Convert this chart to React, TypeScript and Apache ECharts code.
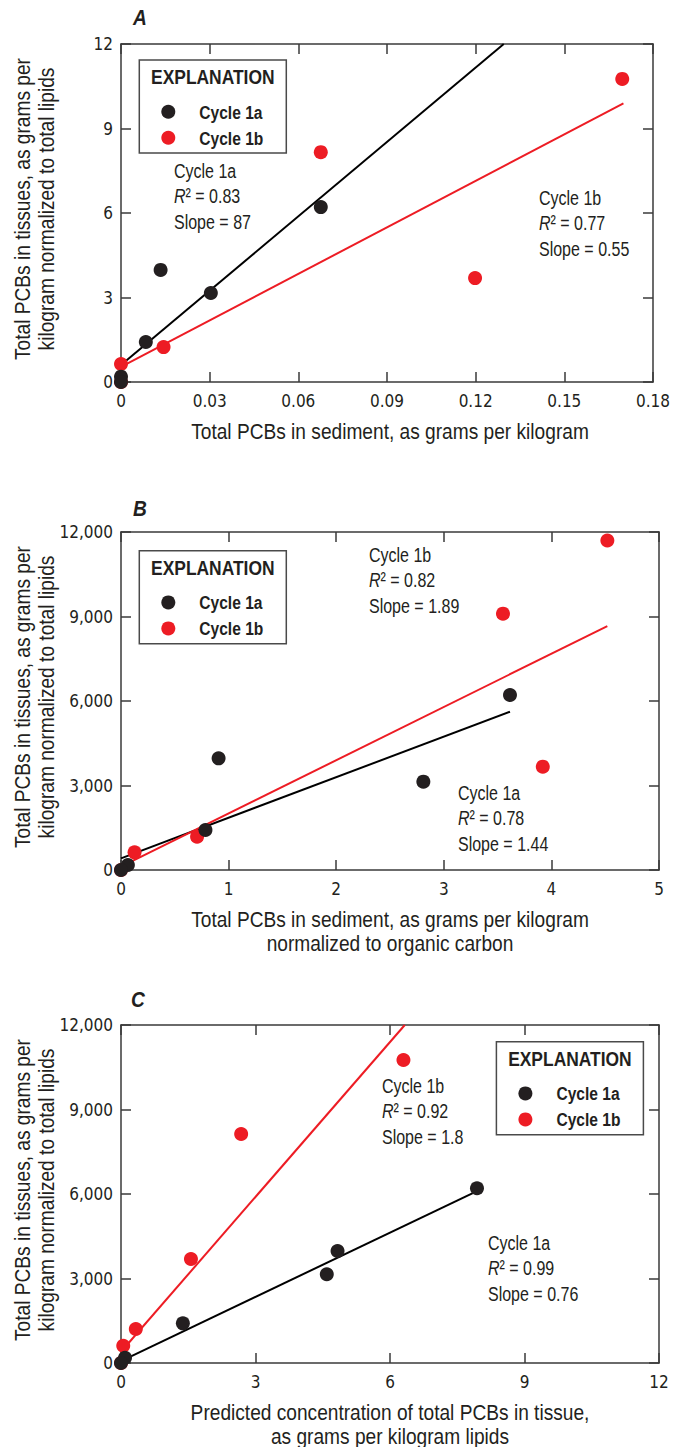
import React, { useEffect, useRef } from "react";
import * as echarts from "echarts";

const TICK_FONT = "'DejaVu Sans Condensed', 'Liberation Sans Narrow', sans-serif";
const TXT_FONT = "'Liberation Sans', Arial, sans-serif";
const INK = "#231f20";
const BLACK = "#231f20";
const RED = "#ed1c24";

// ---------- Panel A ----------
const aXTicks = ["0", "0.03", "0.06", "0.09", "0.12", "0.15", "0.18"];
const aYTicks = ["0", "3", "6", "9", "12"];
const aCycle1a = [[0.0676, 6.21], [0.0134, 3.98], [0.0304, 3.16], [0.0084, 1.42], [0, 0.19], [0, 0]];
const aCycle1b = [[0.1696, 10.76], [0.0676, 8.16], [0.1198, 3.69], [0.0144, 1.24], [0, 0.64], [0, 0]];
const aFit1a = [[0, 0.6], [0.1295, 12]];
const aFit1b = [[0, 0.54], [0.17, 9.89]];

// ---------- Panel B ----------
const bXTicks = ["0", "1", "2", "3", "4", "5"];
const bYTicks = ["0", "3,000", "6,000", "9,000", "12,000"];
const bCycle1a = [[3.615, 6213], [0.907, 3964], [2.81, 3136], [0.785, 1420], [0.064, 177], [0, 0]];
const bCycle1b = [[4.52, 11700], [3.55, 9100], [3.92, 3668], [0.707, 1183], [0.126, 627], [0, 0]];
const bFit1a = [[0, 415], [3.615, 5620]];
const bFit1b = [[0, 117], [4.52, 8660]];

// ---------- Panel C ----------
const cXTicks = ["0", "3", "6", "9", "12"];
const cYTicks = ["0", "3,000", "6,000", "9,000", "12,000"];
const cCycle1a = [[7.94, 6202], [4.83, 3976], [4.59, 3149], [1.38, 1409], [0.09, 188], [0, 0]];
const cCycle1b = [[6.3, 10757], [2.68, 8130], [1.56, 3692], [0.33, 1207], [0.05, 614], [0, 0]];
const cFit1a = [[0, 70], [7.94, 6100]];
const cFit1b = [[0, 400], [6.33, 12000]];

const yTitle = "Total PCBs in tissues, as grams per\nkilogram normalized to total lipids";
const xTitles = [
  "Total PCBs in sediment, as grams per kilogram",
  "Total PCBs in sediment, as grams per kilogram\nnormalized to organic carbon",
  "Predicted concentration of total PCBs in tissue,\nas grams per kilogram lipids",
];

const GRID_LEFT = 121;
const GRID_W = 538;
const GRID_H = 338;
const TOPS = [44, 532, 1025];
const SQ = 0.87; // horizontal condensing of text

function axisPair(kind: "x" | "y", grid: number, max: number, interval: number, labels: string[]) {
  const common = {
    type: "value",
    gridIndex: grid,
    min: 0,
    max,
    interval,
    splitLine: { show: false },
    axisLine: { show: true, onZero: false, lineStyle: { color: "#3a3a3a", width: 1.5 } },
    axisTick: { show: true, inside: true, length: 10, lineStyle: { color: "#3a3a3a", width: 1.5 } },
  };
  const main = {
    ...common,
    position: kind === "x" ? "bottom" : "left",
    axisLabel: {
      show: true,
      fontFamily: TICK_FONT,
      fontSize: 17,
      color: INK,
      margin: kind === "x" ? 10 : 8,
      formatter: (v: number) => labels[Math.round(v / interval)] ?? "",
    },
  };
  const mirror = {
    ...common,
    position: kind === "x" ? "top" : "right",
    axisLabel: { show: false },
  };
  return [main, mirror];
}

function scatter(gridIdx: number, data: number[][], color: string, name: string) {
  return {
    type: "scatter",
    name,
    xAxisIndex: gridIdx * 2,
    yAxisIndex: gridIdx * 2,
    data,
    symbol: "circle",
    symbolSize: 14,
    itemStyle: { color, opacity: 1 },
    z: 5,
  };
}

function fit(gridIdx: number, data: number[][], color: string) {
  return {
    type: "line",
    xAxisIndex: gridIdx * 2,
    yAxisIndex: gridIdx * 2,
    data,
    symbol: "none",
    lineStyle: { color, width: 2 },
    z: 3,
  };
}

function txt(x: number, y: number, text: string, size: number, opts: any = {}) {
  return {
    type: "text",
    x,
    y,
    scaleX: opts.scaleX ?? SQ,
    rotation: opts.rotation ?? 0,
    z: 11,
    style: {
      text,
      fontFamily: TXT_FONT,
      fontSize: size,
      fontWeight: opts.bold ? "bold" : "normal",
      fontStyle: opts.italic ? "italic" : "normal",
      fill: INK,
      textAlign: opts.align ?? "left",
      textVerticalAlign: "middle",
      lineHeight: opts.lineHeight,
      rich: opts.rich,
    },
  };
}

function legendBox(x: number, y: number) {
  return {
    type: "group",
    children: [
      { type: "rect", shape: { x, y, width: 147, height: 93 }, style: { fill: "#fff", stroke: "#4a4a4a", lineWidth: 1.5 }, z: 10 },
      txt(x + 73.5, y + 17, "EXPLANATION", 21, { bold: true, align: "center", scaleX: 0.83 }),
      { type: "circle", shape: { cx: x + 29, cy: y + 51.7, r: 7 }, style: { fill: BLACK }, z: 11 },
      { type: "circle", shape: { cx: x + 29, cy: y + 77.7, r: 7 }, style: { fill: RED }, z: 11 },
      txt(x + 60, y + 52, "Cycle 1a", 19, { bold: true, scaleX: 0.82 }),
      txt(x + 60, y + 78, "Cycle 1b", 19, { bold: true, scaleX: 0.82 }),
    ],
  };
}

function annotation(x: number, y: number, cycle: string, r2: string, slope: string) {
  return {
    type: "group",
    children: [
      txt(x, y, cycle, 20, { scaleX: 0.8 }),
      txt(x, y + 25.5, `{i|R}{n|² = ${r2}}`, 20, {
        scaleX: 0.8,
        rich: {
          i: { fontFamily: TXT_FONT, fontSize: 20, fontStyle: "italic", fill: INK },
          n: { fontFamily: TXT_FONT, fontSize: 20, fill: INK },
        },
      }),
      txt(x, y + 51, `Slope = ${slope}`, 20, { scaleX: 0.8 }),
    ],
  };
}

export default function App() {
  const ref = useRef<HTMLDivElement>(null);
  useEffect(() => {
    if (!ref.current) return;
    const chart = echarts.init(ref.current, null, { renderer: "svg" });
    const xAxes = [
      ...axisPair("x", 0, 0.18, 0.03, aXTicks),
      ...axisPair("x", 1, 5, 1, bXTicks),
      ...axisPair("x", 2, 12, 3, cXTicks),
    ];
    const yAxes = [
      ...axisPair("y", 0, 12, 3, aYTicks),
      ...axisPair("y", 1, 12000, 3000, bYTicks),
      ...axisPair("y", 2, 12000, 3000, cYTicks),
    ];
    const titleGraphics: any[] = [];
    TOPS.forEach((t, i) => {
      const bottom = t + GRID_H;
      titleGraphics.push(
        txt(GRID_LEFT + GRID_W / 2, bottom + 49 + (xTitles[i].includes("\n") ? 12 : 0), xTitles[i], 22, {
          align: "center",
          lineHeight: 24,
        })
      );
      titleGraphics.push(
        txt(34, t + GRID_H / 2 - 4, yTitle, 22, { align: "center", lineHeight: 24, rotation: Math.PI / 2 })
      );
    });
    chart.setOption({
      animation: false,
      backgroundColor: "#ffffff",
      grid: TOPS.map((t) => ({ left: GRID_LEFT, top: t, width: GRID_W, height: GRID_H, containLabel: false })),
      xAxis: xAxes,
      yAxis: yAxes,
      series: [
        fit(0, aFit1a, "#000000"),
        fit(0, aFit1b, RED),
        scatter(0, aCycle1b, RED, "Cycle 1b"),
        scatter(0, aCycle1a, BLACK, "Cycle 1a"),
        fit(1, bFit1a, "#000000"),
        fit(1, bFit1b, RED),
        scatter(1, bCycle1b, RED, "Cycle 1b"),
        scatter(1, bCycle1a, BLACK, "Cycle 1a"),
        fit(2, cFit1a, "#000000"),
        fit(2, cFit1b, RED),
        scatter(2, cCycle1b, RED, "Cycle 1b"),
        scatter(2, cCycle1a, BLACK, "Cycle 1a"),
      ],
      graphic: [
        txt(140, 17, "A", 22, { bold: true, italic: true, align: "center" }),
        txt(140, 508, "B", 22, { bold: true, italic: true, align: "center" }),
        txt(138, 999, "C", 22, { bold: true, italic: true, align: "center" }),
        ...titleGraphics,
        legendBox(139.3, 60),
        legendBox(139.3, 550.7),
        legendBox(496.4, 1041.7),
        annotation(174, 171, "Cycle 1a", "0.83", "87"),
        annotation(539, 198, "Cycle 1b", "0.77", "0.55"),
        annotation(369, 555, "Cycle 1b", "0.82", "1.89"),
        annotation(458, 793, "Cycle 1a", "0.78", "1.44"),
        annotation(382, 1086, "Cycle 1b", "0.92", "1.8"),
        annotation(488, 1243, "Cycle 1a", "0.99", "0.76"),
      ],
    });
    return () => chart.dispose();
  }, []);
  return <div ref={ref} style={{ position: "absolute", left: 0, top: 0, width: 673, height: 1447 }} />;
}
